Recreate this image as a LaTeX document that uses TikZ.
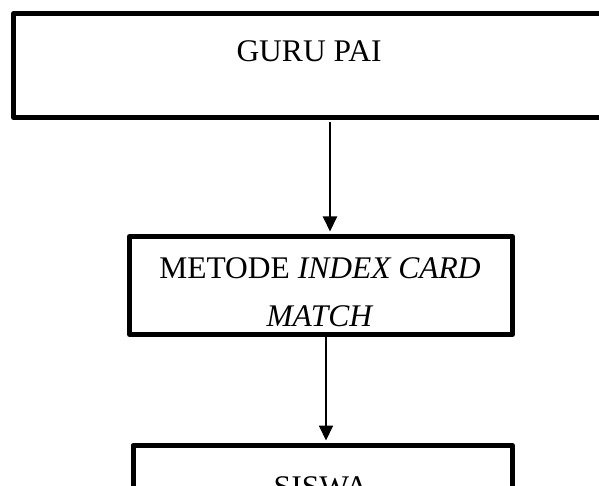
\documentclass[tikz,border=0pt]{standalone}
\usepackage{fontspec}
\setmainfont{Liberation Serif}
\usetikzlibrary{arrows.meta}
\begin{document}
\begin{tikzpicture}[x=1pt,y=-1pt,
  boxnode/.style={draw, line width=5pt, line join=round, inner sep=0pt},
  txt/.style={font=\fontsize{31.5}{48}\selectfont, inner sep=0pt},
  arr/.style={line width=2pt, -{Triangle[length=15pt,width=14pt]}}]
\useasboundingbox (0,0) rectangle (599,486);
\clip (0,0) rectangle (599,486);
\node[boxnode, minimum width=591pt, minimum height=104pt] (top) at (309,65.5) {};
\node[txt, anchor=base] (toptext) at (309,62) {GURU PAI};
\node[boxnode, minimum width=383pt, minimum height=98pt] (mid) at (321,285.5) {};
\node[txt, anchor=base, align=center] (midtext) at (320,326) {METODE \textit{INDEX CARD}\\\textit{MATCH}};
\node[boxnode, minimum width=379.5pt, minimum height=100pt] (bot) at (322.75,495.5) {};
\node[txt, anchor=base] (bottext) at (321,497) {SISWA};
\coordinate (xa) at (330,0);
\coordinate (xb) at (326,0);
\draw[arr, shorten <=2pt, shorten >=2.5pt] (top.south -| xa) -- (mid.north -| xa);
\draw[arr, shorten >=2.5pt] (mid.south -| xb) -- (bot.north -| xb);
\end{tikzpicture}
\end{document}
